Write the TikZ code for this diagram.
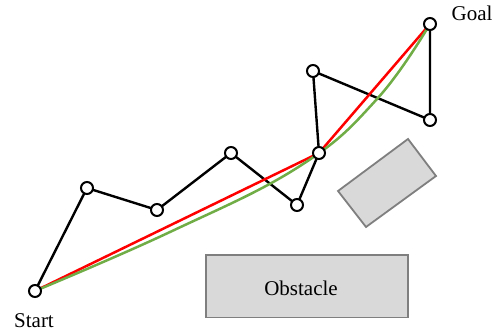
\documentclass[tikz,border=0pt]{standalone}
\usepackage{fontspec}
\setmainfont{Liberation Serif}
\definecolor{pgreen}{HTML}{70AD47}
\definecolor{obfill}{HTML}{D9D9D9}
\definecolor{obline}{HTML}{7F7F7F}
\begin{document}
\begin{tikzpicture}[x=1pt,y=-1pt,
  wp/.style={circle,draw=black,fill=white,line width=2pt,minimum size=12pt,inner sep=0pt},
  edge/.style={draw=black,line width=2.4pt},
  obst/.style={draw=obline,fill=obfill,line width=1.8pt},
  lbl/.style={font=\fontsize{21}{24}\selectfont,inner sep=0pt,anchor=base}]
\useasboundingbox (0,0) rectangle (498,331);
% obstacles
\draw[obst] (206,255) rectangle (408,317.5);
\node[lbl] (obtext) at (301,295) {Obstacle};
\draw[obst] (338,191) -- (408,139) -- (436,176) -- (366,227) -- cycle;
% waypoints (coordinates)
\coordinate (s) at (35,291);
\coordinate (p1) at (87,188);
\coordinate (p2) at (157,210);
\coordinate (p3) at (231,153);
\coordinate (p4) at (297,205);
\coordinate (p5) at (319,153);
\coordinate (p6) at (313,71);
\coordinate (p7) at (430,120);
\coordinate (g) at (430,24);
% raw path
\draw[edge] (s) -- (p1) -- (p2) -- (p3) -- (p4) -- (p5) -- (p6) -- (p7) -- (g);
% pruned path
\draw[red,line width=2.5pt] (s) -- (p5) -- (g);
% smoothed path
\draw[pgreen,line width=2.5pt] plot[smooth,tension=0.7] coordinates {(35,291) (170,232) (300,166) (377,99) (430,24)};
% nodes
\foreach \n in {s,p1,p2,p3,p4,p5,p6,p7,g} \node[wp] (n\n) at (\n) {};
\node[lbl] (start) at (34,327.5) {Start};
\node[lbl] (goal) at (472,21) {Goal};
\end{tikzpicture}
\end{document}
